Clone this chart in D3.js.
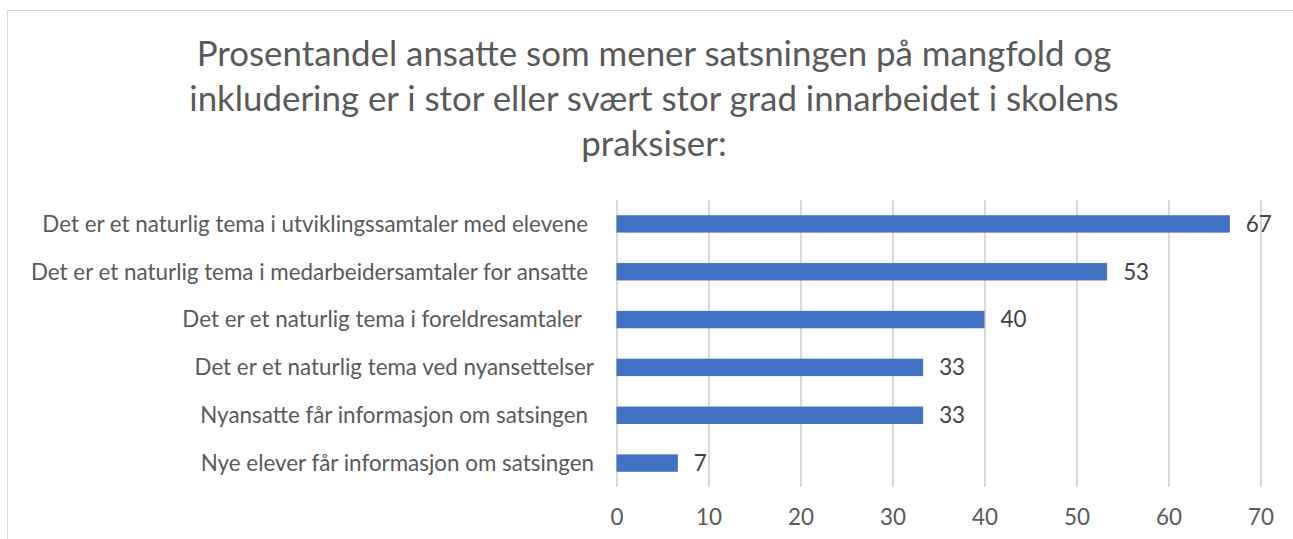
<!DOCTYPE html>
<html>
<head>
<meta charset="utf-8">
<script src="https://cdn.jsdelivr.net/npm/d3@7"></script>
<style>
  html, body { margin: 0; padding: 0; background: #fff; }
  svg { display: block; }
  text { font-family: Lato, "Open Sans", sans-serif; }
</style>
</head>
<body>
<svg id="chart" width="1293" height="539"></svg>
<script>
const titleLines = [
  "Prosentandel ansatte som mener satsningen på mangfold og",
  "inkludering er i stor eller svært stor grad innarbeidet i skolens",
  "praksiser:"
];
const categories = [
  "Det er et naturlig tema i utviklingssamtaler med elevene",
  "Det er et naturlig tema i medarbeidersamtaler for ansatte",
  "Det er et naturlig tema i foreldresamtaler",
  "Det er et naturlig tema ved nyansettelser",
  "Nyansatte får informasjon om satsingen",
  "Nye elever får informasjon om satsingen"
];
const labelTrailingPad = [6, 6, 12, 0, 6, 0];
const values = [66.67, 53.33, 40, 33.33, 33.33, 6.67];
const valueLabels = ["67", "53", "40", "33", "33", "7"];
const xTicks = [0, 10, 20, 30, 40, 50, 60, 70];

const svg = d3.select("#chart");
const W = 1293, H = 539;

// chart border
svg.append("rect")
  .attr("x", 7.5).attr("y", 10.5)
  .attr("width", 1300).attr("height", 600)
  .attr("fill", "none").attr("stroke", "#d9d9d9").attr("stroke-width", 1);

// fit font sizes to reference widths
function fitSize(text, targetWidth, base) {
  const t = svg.append("text").attr("font-size", base).text(text);
  const w = t.node().getComputedTextLength();
  t.remove();
  return base * targetWidth / w;
}
const titleSize = fitSize(titleLines[0], 915, 32);
const labelSize = fitSize(categories[0], 546, 18);

// title
const titleBaselines = [66, 110.5, 155.5];
svg.append("g").selectAll("text").data(titleLines).join("text")
  .attr("x", 654).attr("y", (d, i) => titleBaselines[i])
  .attr("text-anchor", "middle")
  .attr("font-size", titleSize)
  .attr("fill", "#595959")
  .text(d => d);

const x = d3.scaleLinear().domain([0, 70]).range([616.5, 1260.5]);
const y = d3.scaleBand().domain(categories).range([200, 487]).paddingInner(0.636).paddingOuter(0.318);

// gridlines
svg.append("g")
  .attr("transform", "translate(0,487)")
  .call(d3.axisBottom(x).tickValues(xTicks).tickSize(-287).tickFormat(""))
  .call(g => g.select(".domain").remove())
  .call(g => g.selectAll(".tick line").attr("stroke", "#d9d9d9").attr("stroke-width", 2));

// tick labels
const xAxis = svg.append("g")
  .attr("transform", "translate(0,487)")
  .call(d3.axisBottom(x).tickValues(xTicks).tickSize(0).tickPadding(0))
  .call(g => g.select(".domain").remove());
xAxis.selectAll(".tick text")
  .attr("y", 38).attr("dy", 0)
  .attr("font-size", labelSize)
  .attr("font-family", "Lato, 'Open Sans', sans-serif")
  .attr("fill", "#595959");

// category labels
const yAxis = svg.append("g")
  .attr("transform", "translate(594,0)")
  .call(d3.axisLeft(y).tickSize(0).tickPadding(0))
  .call(g => g.select(".domain").remove());
yAxis.selectAll(".tick text")
  .attr("x", (d, i) => -labelTrailingPad[i])
  .attr("dy", "0.35em")
  .attr("font-size", labelSize)
  .attr("font-family", "Lato, 'Open Sans', sans-serif")
  .attr("fill", "#595959");

// bars
svg.append("g").selectAll("rect").data(values).join("rect")
  .attr("x", x(0))
  .attr("y", (d, i) => y(categories[i]))
  .attr("width", d => x(d) - x(0))
  .attr("height", y.bandwidth())
  .attr("fill", "#4472c4");

// value labels
svg.append("g").selectAll("text").data(values).join("text")
  .attr("x", d => x(d) + 16)
  .attr("y", (d, i) => y(categories[i]) + y.bandwidth() / 2)
  .attr("dy", "0.35em")
  .attr("font-size", labelSize)
  .attr("fill", "#404040")
  .text((d, i) => valueLabels[i]);
</script>
</body>
</html>
